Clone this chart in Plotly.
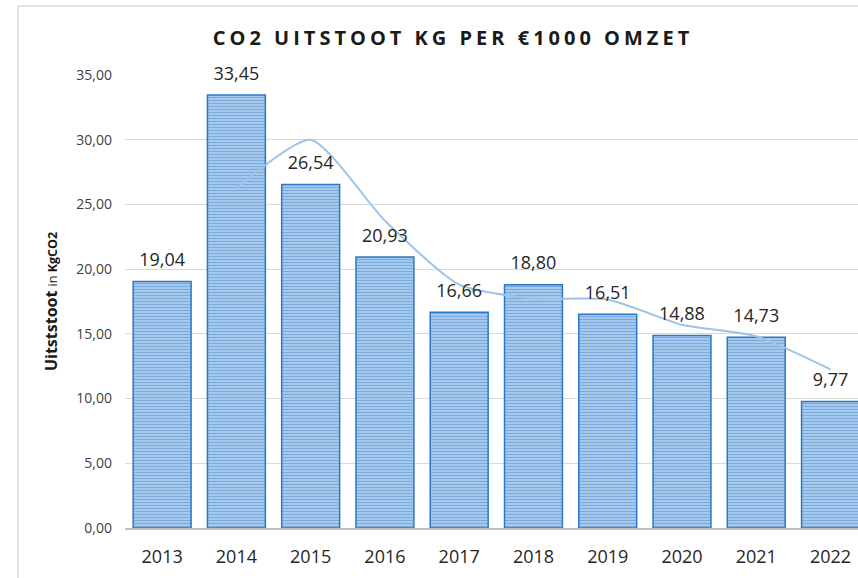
import plotly.graph_objects as go

years = ["2013", "2014", "2015", "2016", "2017", "2018", "2019", "2020", "2021", "2022"]
uitstoot = [19.04, 33.45, 26.54, 20.93, 16.66, 18.80, 16.51, 14.88, 14.73, 9.77]
labels = ["19,04", "33,45", "26,54", "20,93", "16,66", "18,80", "16,51", "14,88", "14,73", "9,77"]
trend_years = ["2014", "2015", "2016", "2017", "2018", "2019", "2020", "2021", "2022"]
trend_values = [26.25, 30.00, 23.74, 18.80, 17.73, 17.66, 15.70, 14.81, 12.25]
y_ticks = [0, 5, 10, 15, 20, 25, 30, 35]

W, H = 858, 578
L, R, T, B = 125, 0, 75, 50

fig = go.Figure()
fig.add_trace(go.Bar(
    x=years, y=uitstoot,
    marker=dict(
        color="#b9d4f0",
        line=dict(color="#2a78c8", width=1.5),
        pattern=dict(shape="-", fgcolor="#2f7ccc", bgcolor="#c3dbf3", size=3, solidity=0.6),
    ),
    showlegend=False, hoverinfo="skip",
))
fig.add_trace(go.Scatter(
    x=trend_years, y=trend_values, mode="lines",
    line=dict(color="#9dc3e6", width=2, shape="spline", smoothing=0.6),
    showlegend=False, hoverinfo="skip",
))
fig.add_trace(go.Scatter(
    x=years, y=uitstoot, mode="markers+text", text=labels,
    textposition="top center",
    marker=dict(size=16, opacity=0),
    textfont=dict(family="Open Sans", size=18, color="#262626"),
    showlegend=False, hoverinfo="skip", cliponaxis=False,
))

pw = W - L - R
ph = H - T - B
xb = (18 - L) / pw
yt = (H - B - 6) / ph
fig.add_shape(type="line", xref="paper", yref="paper",
              x0=xb, x1=xb, y0=-0.2, y1=yt,
              line=dict(color="#d9d9d9", width=1.5))
fig.add_shape(type="line", xref="paper", yref="paper",
              x0=xb, x1=1.2, y0=yt, y1=yt,
              line=dict(color="#d9d9d9", width=1.5))

fig.update_layout(
    width=W, height=H,
    margin=dict(l=L, r=R, t=T, b=B),
    paper_bgcolor="white", plot_bgcolor="white",
    separators=",.",
    bargap=0.22,
    title=dict(
        text="<b><span style='letter-spacing:4px'>CO2 UITSTOOT KG PER €1000 OMZET</span></b>",
        x=453 / W, xanchor="center", y=1 - 38 / H, yanchor="middle",
        font=dict(family="Open Sans", size=20, color="#1a1a1a"),
    ),
    xaxis=dict(
        type="category", range=[-0.5, 9.37],
        showgrid=False, showline=True, linecolor="#bfbfbf", linewidth=1.5,
        ticks="", tickfont=dict(family="Open Sans", size=18, color="#262626"),
        ticklabelstandoff=12,
    ),
    yaxis=dict(
        range=[0, 35], tickvals=y_ticks, tickformat=".2f",
        showgrid=True, gridcolor="#d9d9d9", gridwidth=1,
        zeroline=False, showline=False, ticks="",
        tickfont=dict(family="Open Sans", size=14, color="#404040"),
        ticklabelstandoff=12,
        title=dict(
            text="<b>Uitststoot</b> <span style='font-size:12.5px'>in <b>KgCO2</b></span>",
            font=dict(family="Open Sans", size=16, color="#1a1a1a"),
            standoff=14,
        ),
    ),
)

fig.write_html("out.html", post_script="document.body.style.margin='0';",
               config={"displayModeBar": False})
